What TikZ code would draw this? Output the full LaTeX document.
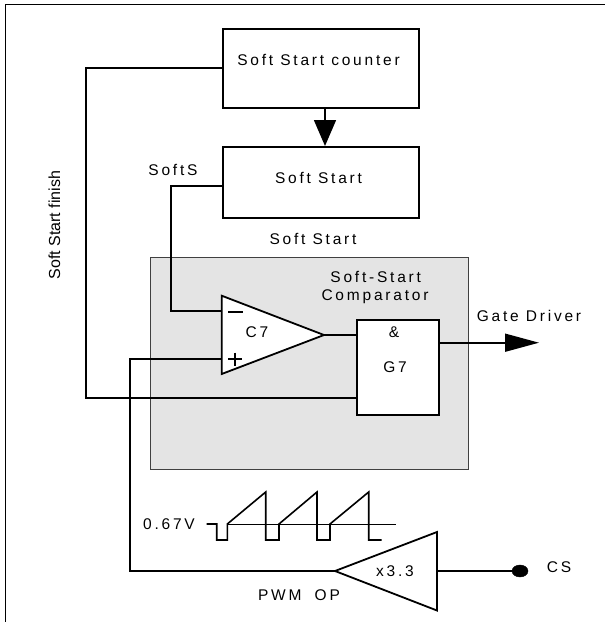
\documentclass[tikz,border=0pt]{standalone}
\usepackage{fontspec}
\setmainfont{Liberation Sans}
\newfontfamily\spaced[LetterSpace=18]{Liberation Sans}
\usetikzlibrary{arrows.meta,shapes.geometric}
\definecolor{panel}{HTML}{E4E4E4}
\tikzset{
  blk/.style={draw=black,line width=2pt,fill=white,inner sep=0pt,anchor=north west},
  wire/.style={draw=black,line width=1.6pt},
  lbl/.style={inner sep=0pt,font=\fontsize{15.5}{17}\spaced},
  bighead/.style={-{Triangle[length=26pt,width=22pt]}},
  tri/.style={draw=black,line width=1.8pt,fill=white,line join=miter},
}
\begin{document}
\begin{tikzpicture}[x=1pt,y=-1pt]
\useasboundingbox (0,0) rectangle (605,622);
% frame
\draw[line width=1pt] (5.5,622) -- (5.5,4.5) -- (605,4.5);
% panel
\node[draw=black!75,line width=0.8pt,fill=panel,minimum width=318.5pt,minimum height=212.5pt,inner sep=0pt,anchor=north west] (panel) at (149.5,256.5) {};
% boxes
\node[blk,minimum width=196pt,minimum height=79pt] (counter) at (222,28) {};
\node[blk,minimum width=196pt,minimum height=71pt] (soft) at (222,146) {};
\node[blk,minimum width=82pt,minimum height=95pt] (gate) at (356,319) {};
% triangles
\coordinate (c7a) at (221.7,295.7);
\coordinate (c7b) at (221.7,374);
\coordinate (c7o) at (324,335);
\coordinate (c7m) at (221.7,311);
\coordinate (c7p) at (221.7,359);
\coordinate (opo) at (335,571);
\coordinate (opa) at (437,532);
\coordinate (opb) at (437,610.5);
\coordinate (opi) at (437,571);
\path[tri] (c7a) -- (c7o) -- (c7b) -- cycle;
\path[tri] (opo) -- (opa) -- (opb) -- cycle;
% junction coordinates
\coordinate (softsc) at (171,186);
\coordinate (softsd) at (171,311);
\coordinate (fina) at (86,67.7);
\coordinate (finb) at (86,398);
\coordinate (plusa) at (130,359);
\coordinate (plusb) at (130,571);
\coordinate (gout) at (539,342.7);
\node[draw=black,fill=black,ellipse,minimum width=16pt,minimum height=12pt,inner sep=0pt] (csdot) at (520,571) {};
% connectors
\draw[wire] (counter.west |- fina) -- (fina) -- (finb) -- (gate.west |- finb);
\draw[wire] (soft.west |- softsc) -- (softsc) -- (softsd) -- (c7m);
\draw[wire] (c7p) -- (plusa) -- (plusb) -- (opo);
\draw[wire] (c7o) -- (gate.west |- c7o);
\draw[wire] (opi) -- (csdot);
\draw[wire,-{Triangle[length=34pt,width=18pt]}] (gate.east |- gout) -- (gout);
\coordinate (arra) at (325,107);
\coordinate (arrb) at (325,146);
\draw[wire,bighead] (arra) -- (arrb);
% +/- marks
\draw[line width=2pt] (228,311.5) -- (242.5,311.5);
\draw[line width=2pt] (228,359) -- (242,359) (235,352.5) -- (235,365.5);
% sawtooth
\draw[line width=1.6pt,line join=miter] (206.7,524) -- (216.7,524) -- (216.7,540) -- (227.3,540) -- (227.3,524) -- (265.7,492) -- (265.7,540) -- (279,540) -- (279,524) -- (317,492) -- (317,540) -- (330,540) -- (330,524) -- (368.7,492) -- (368.7,540) -- (381.7,540);
\draw[line width=1pt] (227.3,524) -- (396,524);
% labels
\node[lbl] (t1) at (318.5,60) {Soft Start counter};
\node[lbl] (t2) at (318.5,178) {Soft Start};
\node[lbl] (t3) at (313,238.5) {Soft Start};
\node[lbl] (t4) at (173,170) {SoftS};
\node[lbl] (t5) at (375.7,277) {Soft-Start};
\node[lbl] (t6) at (375,297) {Comparator};
\node[lbl] (t7) at (257,332) {C7};
\node[lbl] (t8) at (394,332) {\&};
\node[lbl] (t9) at (395,367) {G7};
\node[lbl] (t10) at (529,316) {Gate Driver};
\node[lbl] (t11) at (169,524) {0.67V};
\node[lbl] (t12) at (395,571) {x3.3};
\node[lbl] (t13) at (299,595) {PWM\hspace{6pt} OP};
\node[lbl] (t14) at (559,567) {CS};
\node[inner sep=0pt,rotate=90,font=\fontsize{16}{18}\selectfont] (t15) at (54.5,225) {Soft Start finish};
\end{tikzpicture}
\end{document}
